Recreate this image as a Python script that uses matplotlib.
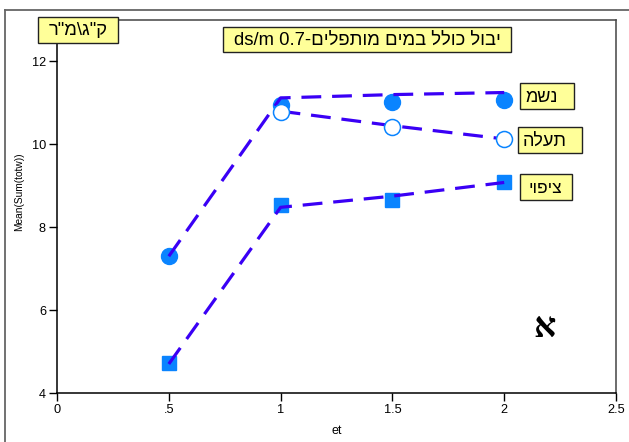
import matplotlib
matplotlib.use("Agg")
import matplotlib.pyplot as plt
from matplotlib.patches import Rectangle
from matplotlib.lines import Line2D

# ---- data -------------------------------------------------------------
et = [0.5, 1.0, 1.5, 2.0]

nashm_means = [7.30, 10.95, 11.03, 11.08]
nashm_trace = [7.30, 11.12, 11.20, 11.25]

tealah_et = [1.0, 1.5, 2.0]
tealah_means = [10.77, 10.41, 10.14]
tealah_trace = [10.80, 10.45, 10.13]

tsipui_means = [4.72, 8.53, 8.65, 9.08]
tsipui_trace = [4.70, 8.48, 8.75, 9.08]

x_ticks = [0, 0.5, 1, 1.5, 2, 2.5]
x_tick_labels = ["0", ".5", "1", "1.5", "2", "2.5"]
y_ticks = [4, 6, 8, 10, 12]

series_names = ["נשמ", "תעלה", "ציפוי"]
title_he = "יבול כולל במים מותפלים"
title_ec = "0.7 ds/m"
units_he = 'ק"ג\\מ"ר'
panel_letter = "א"

x_label = "et"
y_label = "Mean(Sum(totw))"

# ---- style ------------------------------------------------------------
W, H = 629, 442
SANS = ["Liberation Sans", "DejaVu Sans"]
SERIF = ["Liberation Serif", "DejaVu Serif", "DejaVu Sans"]
LINE_C = "#3a00f5"
MARK_C = "#0a84ff"
BOX_C = "#ffff99"

plt.rcParams["font.family"] = SANS


def visual(s):
    """Right-to-left text laid out in display order."""
    return s[::-1]


def fx(px):
    return px / W


def fy(py):
    return 1 - py / H


fig = plt.figure(figsize=(W / 100, H / 100), dpi=100)
ax = fig.add_axes([fx(57), fy(393), (616 - 57) / W, (393 - 20) / H])

dash = dict(lw=2.3, color=LINE_C, dashes=(6.2, 3.4), dash_capstyle="butt",
            solid_capstyle="butt")

# filled markers below the trace lines
ax.plot(et, nashm_means, ls="none", marker="o", ms=11.5, mfc=MARK_C,
        mec=MARK_C, zorder=3)
ax.plot(et, tsipui_means, ls="none", marker="s", ms=10.5, mfc=MARK_C,
        mec=MARK_C, zorder=3)

ax.plot(et, nashm_trace, zorder=4, **dash)
ax.plot(tealah_et, tealah_trace, zorder=4, **dash)
ax.plot(et, tsipui_trace, zorder=4, **dash)

ax.plot(tealah_et, tealah_means, ls="none", marker="o", ms=11.5, mfc="white",
        mec=MARK_C, mew=1.1, zorder=5)

ax.set_xlim(0, 2.5)
ax.set_ylim(4, 13)
ax.set_xticks(x_ticks)
ax.set_xticklabels(x_tick_labels)
ax.set_yticks(y_ticks)
ax.tick_params(axis="both", direction="out", length=6, width=1.0,
               labelsize=9.2, pad=2, colors="black")

for side in ("left", "bottom"):
    ax.spines[side].set_color("black")
    ax.spines[side].set_linewidth(1.1)
for side in ("top", "right"):
    ax.spines[side].set_color("#444444")
    ax.spines[side].set_linewidth(1.1)

ax.set_xlabel(x_label, fontsize=9, labelpad=8)
ax.set_ylabel(y_label, fontsize=7.3)
ax.yaxis.set_label_coords((24 - 57) / (616 - 57), (393 - 192) / (393 - 20))
ax.xaxis.set_label_coords(0.5, -(425 - 393) / (393 - 20))

ax.text(2.18, 5.55, visual(panel_letter), fontsize=25, fontweight="bold",
        family=SERIF, ha="center", va="center", color="black")


# ---- yellow tags ------------------------------------------------------
def tag(x0, y0, x1, y1, text, size, dx=0.0):
    fig.add_artist(Rectangle((fx(x0), fy(y1)), fx(x1 - x0), (y1 - y0) / H,
                             transform=fig.transFigure, facecolor=BOX_C,
                             edgecolor="#222222", lw=1.0, zorder=10))
    fig.text(fx((x0 + x1) / 2 + dx), fy((y0 + y1) / 2 + 1), text,
             fontsize=size, ha="center", va="center", family=SANS,
             color="black", zorder=11)


tag(38, 17, 118, 43, visual(units_he), 13.2)
title_vis = " ".join(title_ec.split()[::-1]) + "-" + visual(title_he)
tag(223, 27, 511, 52, title_vis, 13.3)
tag(520, 83, 574, 109, visual(series_names[0]), 13, dx=-5)
tag(518, 127, 582, 153, visual(series_names[1]), 13, dx=-5)
tag(520, 174, 572, 200, visual(series_names[2]), 12.5, dx=-1)

# outer frame
fig.add_artist(Line2D([fx(5), fx(5)], [fy(10), 0], transform=fig.transFigure,
                      color="#666666", lw=1.3))
fig.add_artist(Line2D([fx(5), 1], [fy(10), fy(10)], transform=fig.transFigure,
                      color="#666666", lw=1.3))

fig.savefig("out.png", dpi=100)
